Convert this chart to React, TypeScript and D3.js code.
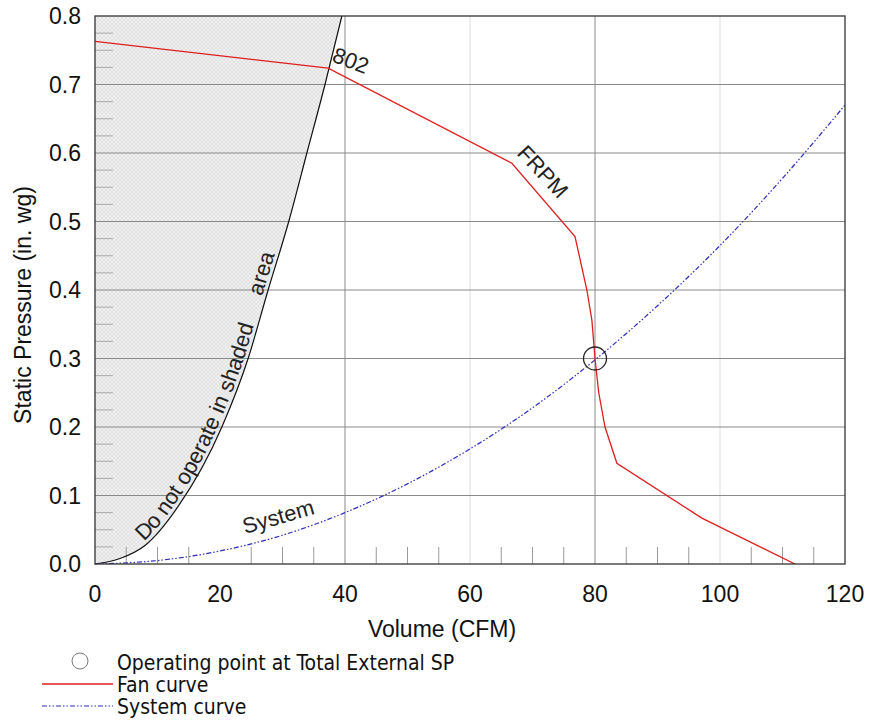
import React from "react";
import * as d3 from "d3";

const fanVolume = [0, 37.3, 66.7, 76.8, 78.7, 79.5, 80, 80.6, 81.6, 83.5, 97.1, 112];
const fanPressure = [0.763, 0.724, 0.585, 0.478, 0.4, 0.356, 0.3, 0.25, 0.2, 0.147, 0.067, 0];

const systemVolume = [0, 10, 20, 30, 40, 50, 60, 70, 80, 90, 100, 110, 120];
const systemPressure = [0, 0.005, 0.019, 0.042, 0.075, 0.117, 0.168, 0.228, 0.298, 0.377, 0.465, 0.563, 0.67];

const limitVolume = [0, 4, 8, 13.3, 20.3, 24.5, 27.7, 31, 33.9, 36.8, 39.5];
const limitPressure = [0, 0.008, 0.027, 0.084, 0.2, 0.3, 0.4, 0.5, 0.6, 0.7, 0.8];

const operatingPoint = { volume: 80, pressure: 0.3 };

const xTicks = [0, 20, 40, 60, 80, 100, 120];
const yTicks = [0, 0.1, 0.2, 0.3, 0.4, 0.5, 0.6, 0.7, 0.8];
const xMajorGrid = [40, 80];
const xLightGrid = [60, 100];

const legendItems = ["Operating point at Total External SP", "Fan curve", "System curve"];

const FONT = "'Liberation Sans', Arial, sans-serif";
const LEG_FONT = "'DejaVu Sans Condensed', 'DejaVu Sans', sans-serif";

export default function App() {
  const x = d3.scaleLinear().domain([0, 120]).range([95, 845]);
  const y = d3.scaleLinear().domain([0, 0.8]).range([564, 16]);

  const fanLine = d3
    .line<number>()
    .x((_, i) => x(fanVolume[i]))
    .y((d) => y(d))
    .curve(d3.curveLinear)(fanPressure) as string;

  const sysLine = d3
    .line<number>()
    .x((_, i) => x(systemVolume[i]))
    .y((d) => y(d))
    .curve(d3.curveMonotoneX)(systemPressure) as string;

  const limitLine = d3
    .line<number>()
    .x((_, i) => x(limitVolume[i]))
    .y((d) => y(d))
    .curve(d3.curveMonotoneX)(limitPressure) as string;

  const shadePath = limitLine + `L${x(0)},${y(0.8)}Z`;

  const xMinor = d3.range(5, 120, 5).filter((v) => v % 20 !== 0);
  const yMinor = d3.range(0.025, 0.8, 0.025).filter((v) => Math.abs(v * 10 - Math.round(v * 10)) > 0.01);

  return (
    <svg
      width={882}
      height={723}
      style={{ position: "absolute", left: 0, top: 0, background: "#fff" }}
    >
      <defs>
        <pattern id="hatch" width="4" height="4" patternUnits="userSpaceOnUse">
          <rect width="4" height="4" fill="#f0f0f0" />
          <path d="M0,0L4,4M4,0L0,4" stroke="#d6d6d6" strokeWidth="0.6" />
        </pattern>
        <clipPath id="plotClip">
          <rect x={x(0)} y={y(0.8)} width={x(120) - x(0)} height={y(0) - y(0.8)} />
        </clipPath>
      </defs>

      <path d={shadePath} fill="url(#hatch)" />

      {/* light vertical grid */}
      {xLightGrid.map((v) => (
        <line key={"lg" + v} x1={x(v)} x2={x(v)} y1={y(0)} y2={y(0.8)} stroke="#dcdcdc" strokeWidth={1} />
      ))}
      {/* major grid */}
      {xMajorGrid.map((v) => (
        <line key={"mg" + v} x1={x(v)} x2={x(v)} y1={y(0)} y2={y(0.8)} stroke="#8a8a8a" strokeWidth={1} />
      ))}
      {yTicks.slice(1, -1).map((v) => (
        <line key={"hg" + v} x1={x(0)} x2={x(120)} y1={y(v)} y2={y(v)} stroke="#8a8a8a" strokeWidth={1} />
      ))}

      {/* minor ticks */}
      {xMinor.map((v) => (
        <line key={"xm" + v} x1={x(v)} x2={x(v)} y1={y(0)} y2={y(0) - 17} stroke="#9a9a9a" strokeWidth={1} />
      ))}
      {yMinor.map((v) => (
        <line key={"ym" + v} x1={x(0)} x2={x(0) + 18} y1={y(v)} y2={y(v)} stroke="#a8a8a8" strokeWidth={1} />
      ))}

      {/* limit curve */}
      <path id="limitPath" d={limitLine} fill="none" stroke="#111" strokeWidth={1.2} />

      <g clipPath="url(#plotClip)">
        <path d={sysLine} fill="none" stroke="#2b2bbf" strokeWidth={1.2} strokeDasharray="5,2,1.5,2,1.5,2" />
        <path d={fanLine} fill="none" stroke="#e01e1e" strokeWidth={1.3} />
      </g>

      <circle
        cx={x(operatingPoint.volume)}
        cy={y(operatingPoint.pressure)}
        r={11.5}
        fill="none"
        stroke="#222"
        strokeWidth={1.3}
      />

      {/* frame */}
      <rect x={x(0)} y={y(0.8)} width={x(120) - x(0)} height={y(0) - y(0.8)} fill="none" stroke="#333" strokeWidth={1.3} />

      {/* curve labels */}
      <text fontFamily={FONT} fontSize={22} fill="#222" dy={-4}>
        <textPath href="#limitPath" startOffset={56}>Do not operate in shaded</textPath>
      </text>
      <text fontFamily={FONT} fontSize={22} fill="#222" dy={-4}>
        <textPath href="#limitPath" startOffset={333}>area</textPath>
      </text>
      <text fontFamily={FONT} fontSize={22} fill="#222" transform={`translate(331,61) rotate(21)`}>
        802
      </text>
      <text fontFamily={FONT} fontSize={22} fill="#222" transform={`translate(516,154) rotate(47)`}>
        FRPM
      </text>
      <text fontFamily={FONT} fontSize={22} fill="#222" transform={`translate(245,534) rotate(-16)`}>
        System
      </text>

      {/* tick labels */}
      {xTicks.map((v) => (
        <text key={"xt" + v} x={x(v)} y={602} textAnchor="middle" fontFamily={FONT} fontSize={23} fill="#111">
          {v}
        </text>
      ))}
      {yTicks.map((v) => (
        <text key={"yt" + v} x={81} y={y(v)} dy="0.35em" textAnchor="end" fontFamily={FONT} fontSize={23} fill="#111">
          {d3.format(".1f")(v)}
        </text>
      ))}

      <text x={442} y={637} textAnchor="middle" fontFamily={FONT} fontSize={23} fill="#111">
        Volume (CFM)
      </text>
      <text
        transform={`translate(31,305) rotate(-90)`}
        textAnchor="middle"
        fontFamily={FONT}
        fontSize={23}
        fill="#111"
      >
        Static Pressure (in. wg)
      </text>

      {/* legend */}
      <circle cx={80} cy={661} r={8} fill="none" stroke="#777" strokeWidth={1} />
      <line x1={42} x2={113} y1={684} y2={684} stroke="#e01e1e" strokeWidth={1.3} />
      <line x1={42} x2={113} y1={706} y2={706} stroke="#2b2bbf" strokeWidth={1.2} strokeDasharray="5,2,1.5,2,1.5,2" />
      {legendItems.map((t, i) => (
        <text key={t} x={117} y={670 + i * 22} fontFamily={LEG_FONT} fontSize={21} fill="#111">
          {t}
        </text>
      ))}
    </svg>
  );
}
